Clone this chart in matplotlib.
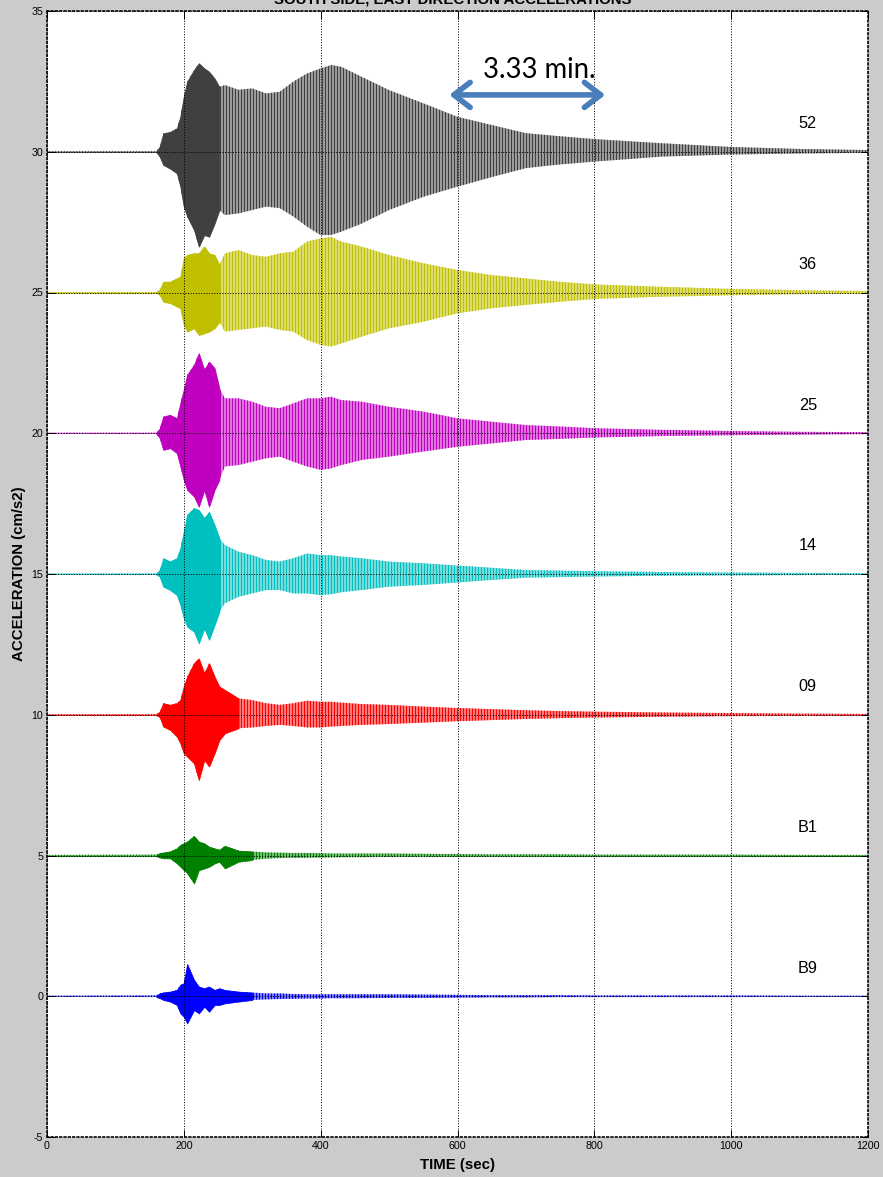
import numpy as np
import matplotlib
matplotlib.use("Agg")
import matplotlib.pyplot as plt

t_sec = [0, 160, 165, 170, 180, 190, 195, 200, 205, 215, 222, 230, 237, 245, 252,
         260, 280, 300, 320, 340, 360, 380, 400, 415, 430, 460, 500, 550, 600,
         650, 700, 750, 800, 900, 1000, 1100, 1200]

# upper / lower envelope (cm/s2 from the trace baseline)
up_52 = [0.02, 0.02, 0.18, 0.65, 0.70, 0.83, 1.24, 1.95, 2.49, 2.90, 3.14, 2.96, 2.84, 2.60, 2.30,
         2.37, 2.20, 2.25, 2.07, 2.13, 2.49, 2.78, 2.96, 3.08, 3.02, 2.66, 2.19, 1.72, 1.24,
         0.95, 0.66, 0.55, 0.45, 0.30, 0.17, 0.10, 0.06]
lo_52 = [0.02, 0.02, 0.18, 0.47, 0.60, 0.77, 1.24, 1.95, 2.30, 2.78, 3.37, 2.96, 3.02, 2.55, 2.07,
         2.25, 2.19, 2.07, 1.95, 2.00, 2.30, 2.66, 2.96, 2.96, 2.84, 2.55, 2.07, 1.60, 1.24,
         0.90, 0.58, 0.45, 0.35, 0.17, 0.10, 0.06, 0.04]
up_36 = [0.02, 0.02, 0.09, 0.38, 0.38, 0.50, 0.56, 1.21, 1.33, 1.39, 1.39, 1.63, 1.39, 1.33, 0.98,
         1.39, 1.51, 1.33, 1.27, 1.39, 1.45, 1.81, 1.92, 1.98, 1.81, 1.63, 1.33, 1.04, 0.80,
         0.62, 0.50, 0.38, 0.29, 0.20, 0.13, 0.08, 0.05]
lo_36 = [0.02, 0.02, 0.09, 0.33, 0.38, 0.50, 0.56, 1.15, 1.39, 1.27, 1.51, 1.45, 1.39, 1.27, 1.04,
         1.39, 1.33, 1.27, 1.21, 1.33, 1.39, 1.69, 1.86, 1.92, 1.81, 1.57, 1.27, 1.04, 0.74,
         0.56, 0.44, 0.33, 0.23, 0.15, 0.10, 0.06, 0.04]
up_25 = [0.02, 0.02, 0.17, 0.59, 0.65, 0.53, 1.06, 1.54, 2.07, 2.43, 2.84, 2.25, 2.54, 2.31, 1.60,
         1.24, 1.24, 1.12, 0.94, 0.89, 1.06, 1.24, 1.24, 1.30, 1.18, 1.12, 0.94, 0.77, 0.53,
         0.41, 0.29, 0.24, 0.18, 0.12, 0.08, 0.05, 0.04]
lo_25 = [0.02, 0.02, 0.18, 0.59, 0.53, 0.71, 1.18, 1.66, 2.01, 2.25, 2.61, 2.01, 2.61, 2.01, 1.66,
         1.18, 1.13, 1.01, 0.89, 0.83, 1.01, 1.18, 1.30, 1.25, 1.13, 0.95, 0.83, 0.65, 0.48,
         0.36, 0.24, 0.20, 0.15, 0.10, 0.07, 0.05, 0.03]
up_14 = [0.02, 0.02, 0.14, 0.56, 0.44, 0.56, 0.91, 1.50, 2.10, 2.34, 2.27, 1.98, 2.20, 1.74, 1.27,
         1.03, 0.79, 0.67, 0.50, 0.44, 0.56, 0.73, 0.67, 0.67, 0.62, 0.56, 0.44, 0.38, 0.30,
         0.22, 0.14, 0.12, 0.10, 0.07, 0.05, 0.04, 0.03]
lo_14 = [0.02, 0.02, 0.10, 0.45, 0.57, 0.75, 1.10, 1.57, 1.87, 2.05, 2.46, 1.93, 2.34, 1.81, 1.34,
         1.04, 0.81, 0.69, 0.57, 0.57, 0.69, 0.69, 0.75, 0.72, 0.65, 0.57, 0.45, 0.39, 0.30,
         0.21, 0.13, 0.11, 0.09, 0.06, 0.05, 0.04, 0.03]
up_09 = [0.02, 0.02, 0.11, 0.41, 0.35, 0.41, 0.52, 1.00, 1.35, 1.83, 2.00, 1.47, 1.83, 1.35, 1.00,
         0.88, 0.58, 0.52, 0.41, 0.35, 0.41, 0.50, 0.46, 0.46, 0.43, 0.38, 0.35, 0.29, 0.24,
         0.20, 0.16, 0.13, 0.11, 0.08, 0.06, 0.04, 0.03]
lo_09 = [0.02, 0.02, 0.09, 0.42, 0.54, 0.78, 1.02, 1.37, 1.49, 1.73, 2.32, 1.61, 1.84, 1.37, 0.90,
         0.66, 0.48, 0.45, 0.40, 0.36, 0.40, 0.45, 0.45, 0.42, 0.40, 0.36, 0.33, 0.28, 0.23,
         0.19, 0.15, 0.12, 0.10, 0.07, 0.05, 0.04, 0.03]
up_b1 = [0.02, 0.03, 0.08, 0.10, 0.14, 0.25, 0.37, 0.43, 0.49, 0.69, 0.49, 0.43, 0.31, 0.25, 0.20,
         0.34, 0.17, 0.14, 0.11, 0.10, 0.09, 0.09, 0.08, 0.07, 0.07, 0.07, 0.07, 0.06, 0.05,
         0.04, 0.04, 0.04, 0.03, 0.03, 0.03, 0.02, 0.02]
lo_b1 = [0.02, 0.03, 0.07, 0.10, 0.10, 0.28, 0.40, 0.52, 0.63, 0.99, 0.52, 0.46, 0.40, 0.28, 0.22,
         0.46, 0.22, 0.16, 0.11, 0.09, 0.08, 0.08, 0.07, 0.07, 0.06, 0.06, 0.05, 0.05, 0.04,
         0.04, 0.04, 0.03, 0.03, 0.03, 0.03, 0.02, 0.02]
up_b9 = [0.02, 0.03, 0.10, 0.13, 0.16, 0.22, 0.40, 0.46, 1.14, 0.58, 0.34, 0.28, 0.34, 0.22, 0.28,
         0.22, 0.16, 0.13, 0.10, 0.10, 0.08, 0.07, 0.07, 0.07, 0.07, 0.07, 0.07, 0.06, 0.05,
         0.04, 0.04, 0.04, 0.03, 0.03, 0.03, 0.02, 0.02]
lo_b9 = [0.02, 0.03, 0.07, 0.13, 0.19, 0.31, 0.61, 0.73, 0.96, 0.49, 0.61, 0.37, 0.55, 0.31, 0.31,
         0.25, 0.19, 0.13, 0.11, 0.10, 0.09, 0.08, 0.08, 0.07, 0.07, 0.07, 0.06, 0.06, 0.05,
         0.04, 0.04, 0.03, 0.03, 0.03, 0.03, 0.02, 0.02]

labels = ["52", "36", "25", "14", "09", "B1", "B9"]
offsets = [30, 25, 20, 15, 10, 5, 0]
strong_end = [252, 252, 252, 252, 280, 300, 300]
colors = ["#404040", "#bfbf00", "#bf00bf", "#00bfbf", "#ff0000", "#008000", "#0000ff"]
tints = ["#a8a8a8", "#e2e280", "#e488e4", "#86e0e0", "#ff8c8c", "#88c488", "#8c8cff"]
uppers = [up_52, up_36, up_25, up_14, up_09, up_b1, up_b9]
lowers = [lo_52, lo_36, lo_25, lo_14, lo_09, lo_b1, lo_b9]

DPI = 90
plt.rcParams['hatch.linewidth'] = 1.0
plt.rcParams['axes.unicode_minus'] = False
plt.rcParams['font.family'] = ['Liberation Sans', 'DejaVu Sans']

fig = plt.figure(figsize=(883 / DPI, 1177 / DPI), dpi=DPI, facecolor='#cbcbcb')
ax = fig.add_axes([47 / 883, 40 / 1177, 821 / 883, 1126 / 1177])
ax.set_facecolor('white')

t = np.array(t_sec)
for lab, base, tend, col, tint, up, lo in zip(labels, offsets, strong_end, colors, tints, uppers, lowers):
    up = np.array(up)
    lo = np.array(lo)
    ax.axhline(base, color=col, lw=0.8, zorder=1)
    # coda: oscillation drawn as dense vertical strokes
    ax.fill_between(t, base + up, base - lo, facecolor=tint, edgecolor=col,
                    hatch='|||||', linewidth=0, zorder=1.2)
    # strong motion part: solid
    mask = (t >= 160) & (t <= tend)
    ax.fill_between(t, base + up, base - lo, where=mask, color=col, linewidth=0.6, zorder=1.4)
    ax.text(1112, base + 1.0, lab, fontsize=13, ha='center', va='center', color='black')

ax.set_xlim(0, 1200)
ax.set_ylim(-5, 35)
ax.set_xticks(range(0, 1201, 200))
ax.set_yticks(range(-5, 36, 5))
ax.tick_params(direction='in', length=6, top=True, right=True, labelsize=8.5, pad=3)
ax.grid(True, color='black', linestyle=':', linewidth=0.8)
ax.set_axisbelow(False)
for sp in ax.spines.values():
    sp.set_linestyle(':')
    sp.set_linewidth(1.3)

ax.set_xlabel('TIME (sec)', fontsize=12, fontweight='bold', labelpad=6)
ax.set_ylabel('ACCELERATION (cm/s2)', fontsize=12, fontweight='bold', labelpad=4)
# title sits partly above the figure edge, as in the original export
fig.text(0.513, 1 - 3 / 1177, 'SOUTH SIDE, EAST DIRECTION ACCELERATIONS',
         fontsize=12, fontweight='bold', ha='center', va='baseline')

# 3.33 min marker
ax.annotate('', xy=(588, 32.02), xytext=(816, 32.02),
            arrowprops=dict(arrowstyle='<->,head_length=0.65,head_width=0.5',
                            color='#4a7ebb', lw=4.5, shrinkA=0, shrinkB=0,
                            mutation_scale=20), zorder=5)
ax.text(719, 32.62, '3.33 min.', fontsize=22, family=['Lato', 'DejaVu Sans'],
        ha='center', va='baseline', color='black', zorder=5)

fig.savefig('out.png', dpi=DPI, facecolor=fig.get_facecolor())
